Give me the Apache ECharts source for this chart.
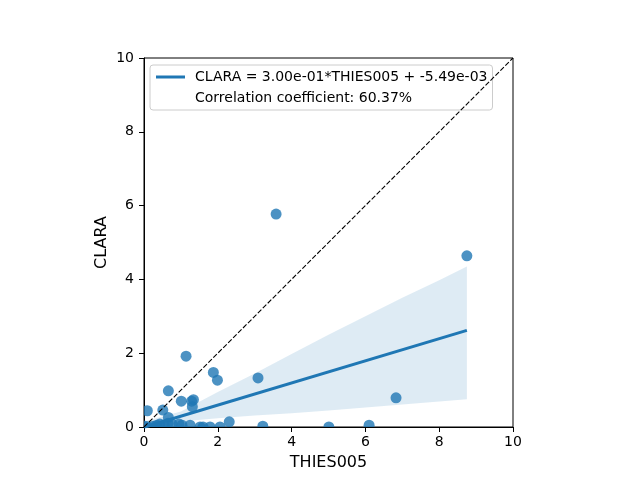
<!DOCTYPE html>
<html>
<head>
<meta charset="utf-8">
<script src="https://cdn.jsdelivr.net/npm/echarts@6/dist/echarts.min.js"></script>
<style>
  html, body { margin: 0; padding: 0; background: #fff; }
  #chart { width: 640px; height: 480px; }
</style>
</head>
<body>
<div id="chart"></div>
<script>
// scatter points: [THIES005, CLARA]
const points = [
  [8.75, 4.64], [3.58, 5.77], [6.83, 0.79], [6.10, 0.05], [5.01, 0.0],
  [3.22, 0.02], [3.09, 1.33], [2.31, 0.14], [1.99, 1.27], [1.88, 1.48],
  [1.14, 1.92], [0.66, 0.98], [1.01, 0.70], [1.29, 0.70], [1.34, 0.74],
  [1.31, 0.55], [0.51, 0.46], [0.09, 0.44], [0.66, 0.26],
  [0.03, 0.02], [0.10, 0.0], [0.25, 0.02], [0.35, 0.05], [0.43, 0.08],
  [0.55, 0.05], [0.65, 0.10], [0.76, 0.08], [0.95, 0.08], [1.03, 0.05],
  [1.25, 0.05], [1.52, 0.0], [1.60, 0.0], [1.79, 0.0], [2.06, 0.0]
];

// fitted line end points
const regX = [0, 8.75];
const regY = [-0.0055, 2.62];

// confidence band edges
const bandX = [0, 1, 2, 3, 4, 5, 6, 7, 8, 8.75];
const bandUpper = [0.15, 0.42, 0.95, 1.45, 1.98, 2.50, 3.00, 3.50, 3.98, 4.35];
const bandLower = [-0.15, 0.15, 0.24, 0.31, 0.37, 0.45, 0.53, 0.61, 0.69, 0.75];

const xTicks = [0, 2, 4, 6, 8, 10];
const yTicks = [0, 2, 4, 6, 8, 10];

const eqName = 'CLARA = 3.00e-01*THIES005 + -5.49e-03';
const corrName = 'Correlation coefficient: 60.37%';
const blue = '#1f77b4';

( function ()
{
  let myChart = echarts.init( document.getElementById( 'chart' ) );

  let axisCommon = {
    type: 'value',
    min: xTicks[ 0 ],
    max: xTicks[ xTicks.length - 1 ],
    interval: 2,
    splitLine: { show: false },
    axisLine: { show: true, onZero: false, lineStyle: { color: '#000', width: 1 } },
    axisTick: { show: true, length: 5, lineStyle: { color: '#000' } },
    axisLabel: { color: '#000', fontSize: 14, fontFamily: 'DejaVu Sans' },
    nameLocation: 'middle',
    nameTextStyle: { color: '#000', fontSize: 16, fontFamily: 'DejaVu Sans' }
  };

  let option = {
    animation: false,
    backgroundColor: '#fff',
    grid: {
      left: 144, right: 127, top: 58, bottom: 53,
      show: true, borderColor: '#000', borderWidth: 1, backgroundColor: 'transparent'
    },
    xAxis: Object.assign( {}, axisCommon, {
      name: 'THIES005', nameGap: 28,
      axisLabel: Object.assign( {}, axisCommon.axisLabel, { margin: 8 } )
    } ),
    yAxis: Object.assign( {}, axisCommon, {
      min: yTicks[ 0 ], max: yTicks[ yTicks.length - 1 ],
      name: 'CLARA', nameGap: 34, nameMoveOverlap: false,
      axisLabel: Object.assign( {}, axisCommon.axisLabel, { margin: 10 } )
    } ),
    legend: {
      orient: 'vertical',
      left: 150, top: 65,
      padding: [ 5, 5, 5, 6 ],
      itemWidth: 29, itemHeight: 14, itemGap: 7,
      backgroundColor: 'rgba(255,255,255,0.8)',
      borderColor: '#cccccc', borderWidth: 1, borderRadius: 3,
      textStyle: { color: '#000', fontSize: 14, fontFamily: 'DejaVu Sans', padding: [ 0, 0, 0, 5 ] },
      data: [
        { name: eqName, icon: 'path://M0,0 L29,0 L29,3 L0,3 Z', itemStyle: { color: blue } },
        { name: corrName, icon: 'rect', itemStyle: { color: 'rgba(0,0,0,0)', borderWidth: 0 } }
      ]
    },
    series: [
      {
        name: 'band',
        type: 'custom',
        clip: true,
        silent: true,
        z: 1,
        data: [ 0 ],
        renderItem: function ( params, api )
        {
          let pts = [];
          for ( let i = 0; i < bandX.length; i++ ) pts.push( api.coord( [ bandX[ i ], bandUpper[ i ] ] ) );
          for ( let i = bandX.length - 1; i >= 0; i-- ) pts.push( api.coord( [ bandX[ i ], bandLower[ i ] ] ) );
          return {
            type: 'polygon',
            shape: { points: pts },
            style: { fill: 'rgba(31,119,180,0.15)' }
          };
        }
      },
      {
        // drawn as custom circles so markers are clipped at the axes like the reference
        name: 'points',
        type: 'custom',
        clip: true,
        z: 2,
        data: points,
        renderItem: function ( params, api )
        {
          let c = api.coord( [ api.value( 0 ), api.value( 1 ) ] );
          return {
            type: 'circle',
            shape: { cx: c[ 0 ], cy: c[ 1 ], r: 5.5 },
            style: { fill: blue, opacity: 0.8 }
          };
        }
      },
      {
        name: eqName,
        type: 'line',
        z: 3,
        symbol: 'none',
        lineStyle: { color: blue, width: 3 },
        itemStyle: { color: blue },
        data: regX.map( ( x, i ) => [ x, regY[ i ] ] )
      },
      {
        name: corrName,
        type: 'line',
        symbol: 'none',
        lineStyle: { opacity: 0 },
        data: []
      },
      {
        name: 'diagonal',
        type: 'line',
        z: 4,
        symbol: 'none',
        lineStyle: { color: '#000', width: 1.1, type: [ 5, 2 ] },
        data: [ [ 0, 0 ], [ 10, 10 ] ]
      }
    ]
  };
  myChart.setOption( option );
} )();
</script>
</body>
</html>
